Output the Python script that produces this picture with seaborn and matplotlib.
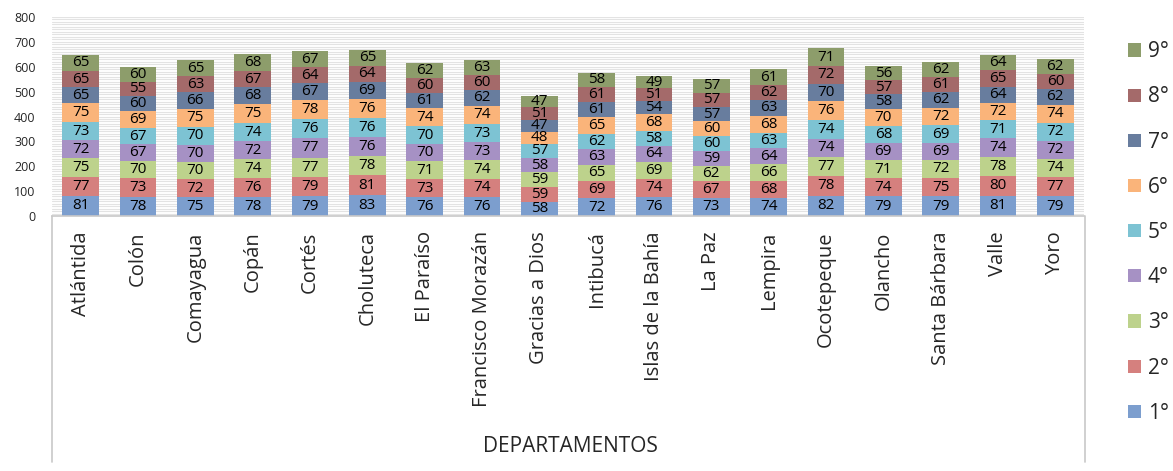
import pandas as pd
import seaborn as sns
import matplotlib.pyplot as plt
from matplotlib.ticker import MultipleLocator
from matplotlib.lines import Line2D

departamentos = ["Atlántida", "Colón", "Comayagua", "Copán", "Cortés", "Choluteca",
                 "El Paraíso", "Francisco Morazán", "Gracias a Dios", "Intibucá",
                 "Islas de la Bahía", "La Paz", "Lempira", "Ocotepeque", "Olancho",
                 "Santa Bárbara", "Valle", "Yoro"]
grados = ["1°", "2°", "3°", "4°", "5°", "6°", "7°", "8°", "9°"]

g1 = [81, 78, 75, 78, 79, 83, 76, 76, 58, 72, 76, 73, 74, 82, 79, 79, 81, 79]
g2 = [77, 73, 72, 76, 79, 81, 73, 74, 59, 69, 74, 67, 68, 78, 74, 75, 80, 77]
g3 = [75, 70, 70, 74, 77, 78, 71, 74, 59, 65, 69, 62, 66, 77, 71, 72, 78, 74]
g4 = [72, 67, 70, 72, 77, 76, 70, 73, 58, 63, 64, 59, 64, 74, 69, 69, 74, 72]
g5 = [73, 67, 70, 74, 76, 76, 70, 73, 57, 62, 58, 60, 63, 74, 68, 69, 71, 72]
g6 = [75, 69, 75, 75, 78, 76, 74, 74, 48, 65, 68, 60, 68, 76, 70, 72, 72, 74]
g7 = [65, 60, 66, 68, 67, 69, 61, 62, 47, 61, 54, 57, 63, 70, 58, 62, 64, 62]
g8 = [65, 55, 63, 67, 64, 64, 60, 60, 51, 61, 51, 57, 62, 72, 57, 61, 65, 60]
g9 = [65, 60, 65, 68, 67, 65, 62, 63, 47, 58, 49, 57, 61, 71, 56, 62, 64, 62]
valores = [g1, g2, g3, g4, g5, g6, g7, g8, g9]

colores = ["#7C9ECE", "#D5807E", "#BDD28C", "#A691C4", "#7DC3D3",
           "#FAB47A", "#687D9E", "#A46A6A", "#8D9D6B"]

# tabla larga para seaborn
filas = []
for grado, vals in zip(grados, valores):
    for dep, v in zip(departamentos, vals):
        filas.append((dep, grado, v))
df = pd.DataFrame(filas, columns=["Departamento", "Grado", "Valor"])

sns.set_style("white")
plt.rcParams["font.family"] = ["Open Sans", "DejaVu Sans"]

W, H = 1173, 471
fig = plt.figure(figsize=(W / 100, H / 100), dpi=100)
x0, x1, y0, y1 = 52, 1084, 216, 17
ax = fig.add_axes([x0 / W, 1 - y0 / H, (x1 - x0) / W, (y0 - y1) / H])

# hue_order invertido: seaborn apila el último nivel abajo
sns.histplot(data=df, x="Departamento", weights="Valor", hue="Grado",
             hue_order=grados[::-1], palette=dict(zip(grados, colores)),
             multiple="stack", discrete=True, shrink=0.645, alpha=1,
             linewidth=0, ax=ax)

for cont in ax.containers:
    ax.bar_label(cont, fmt="{:.0f}", label_type="center", fontsize=11,
                 color="black")

ax.set_xlim(-0.5, len(departamentos) - 0.5)
ax.set_ylim(0, 800)
ax.set_yticks(range(0, 801, 100))
ax.yaxis.set_minor_locator(MultipleLocator(10))
ax.yaxis.grid(True, which="both", color="#e3e3e3", linewidth=0.8)
ax.xaxis.grid(False)
ax.set_axisbelow(True)
ax.set_xticks(range(len(departamentos)), departamentos, rotation=90)
ax.tick_params(axis="x", labelsize=14.5, pad=11, length=0)
ax.tick_params(axis="y", labelsize=9, pad=12, length=0)
ax.set_xlabel("")
ax.set_ylabel("")
for s in ["left", "right", "top"]:
    ax.spines[s].set_visible(False)
ax.spines["bottom"].set_color("#c8c8c8")
ax.spines["bottom"].set_linewidth(1.2)

# marco del eje de categorías
for xp in (x0, x1 + 1):
    fig.add_artist(Line2D([xp / W, xp / W], [1 - y0 / H, 1 - 462 / H],
                          color="#c8c8c8", linewidth=1.2))

fig.text(570 / W, 1 - 447 / H, "DEPARTAMENTOS", ha="center", va="center",
         fontsize=15)

sns.move_legend(ax, "center left", bbox_to_anchor=(1128 / W, 1 - 232.5 / H),
                bbox_transform=fig.transFigure, frameon=False, title=None,
                fontsize=15, labelspacing=1.16, handlelength=0.6,
                handleheight=0.6, handletextpad=0.35, borderpad=0,
                borderaxespad=0)

fig.savefig("out.png", dpi=100)
